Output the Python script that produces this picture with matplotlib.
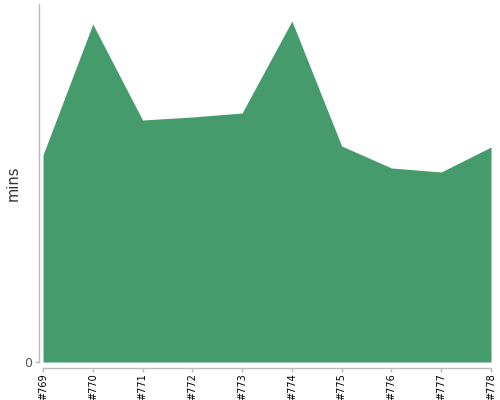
import matplotlib
matplotlib.use('Agg')
import matplotlib.pyplot as plt

# build labels and duration in minutes
builds = ['#769', '#770', '#771', '#772', '#773', '#774', '#775', '#776', '#777', '#778']
mins = [20.7, 33.8, 24.2, 24.5, 24.9, 34.1, 21.6, 19.4, 19.0, 21.5]

fig = plt.figure(figsize=(5, 4), dpi=100)
ax = fig.add_axes([0.086, 0.095, 0.896, 0.895])

xs = list(range(len(builds)))
ax.fill_between(xs, 0, mins, color='#459b6c', linewidth=0)

ax.set_xlim(0, len(builds) - 1)
ax.set_ylim(0, 35.8)
ax.set_xticks(xs)
ax.set_xticklabels(builds)
ax.set_yticks([0])
ax.set_yticklabels(['0'])

for side in ['top', 'right']:
    ax.spines[side].set_visible(False)
ax.spines['left'].set_position(('outward', 3))
ax.spines['bottom'].set_position(('outward', 4))
for side in ['left', 'bottom']:
    ax.spines[side].set_color('#bbbbbb')
    ax.spines[side].set_linewidth(1)
ax.tick_params(axis='both', colors='#bbbbbb', length=3, width=1)
ax.tick_params(axis='x', labelcolor='black', labelsize=7, labelrotation=90, pad=1)
ax.tick_params(axis='y', labelcolor='#555555', labelsize=9, pad=2)
ax.set_ylabel('mins', fontsize=10.5, color='#333333', labelpad=2)

plt.savefig('out.png')
